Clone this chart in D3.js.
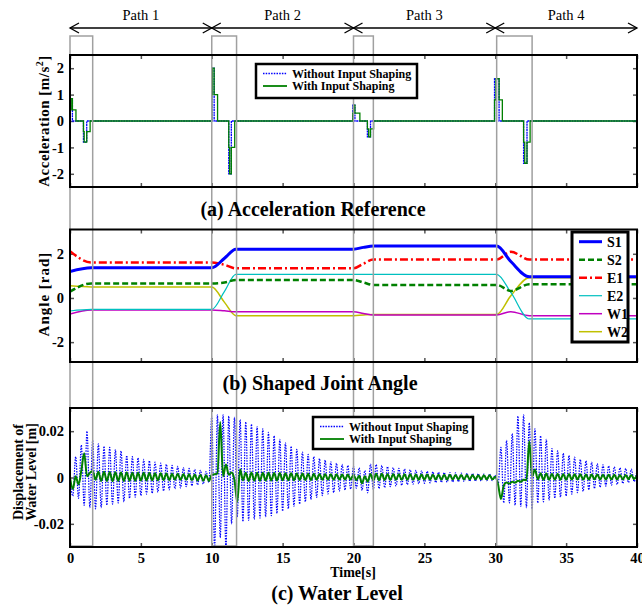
<!DOCTYPE html>
<html>
<head>
<meta charset="utf-8">
<script src="https://d3js.org/d3.v7.min.js"></script>
<style>
  body { margin: 0; background: #fff; }
  svg text { font-family: "Liberation Serif", "Times New Roman", serif; }
</style>
</head>
<body>
<script>
// ---- data ----

// path segments along the time axis
var pathNames = ["Path 1", "Path 2", "Path 3", "Path 4"];
var pathBounds = [0, 10, 20, 30, 40];

// gray windows (shaping interval of each path), seconds
var winStart = [0, 10, 20, 30.1];
var winEnd = [1.6, 11.75, 21.4, 32.6];

// (a) acceleration reference, step breakpoints
var accBlueT = [0, 0.02, 0.17, 0.95, 1.18, 10.0, 10.17, 11.2, 11.38, 19.95, 20.1, 20.98, 21.2, 29.95, 30.27, 32.0, 32.24, 40];
var accBlueV = [0, 0.85, 0, -0.8, 0, 2, 0, -2, 0, 0.6, 0, -0.6, 0, 1.6, 0, -1.6, 0, 0];
var accGreenT = [0, 0.02, 0.07, 0.17, 0.42, 0.95, 1.0, 1.18, 1.42, 10.0, 10.05, 10.17, 10.41, 11.2, 11.26, 11.38, 11.62,
                 19.95, 20.0, 20.1, 20.45, 20.98, 21.07, 21.2, 21.42, 29.95, 30.05, 30.27, 30.5, 32.0, 32.08, 32.24, 32.46, 40];
var accGreenV = [0, 0.42, 0.85, 0.42, 0, -0.4, -0.8, -0.4, 0, 1, 2, 1, 0, -1, -2, -1, 0,
                 0.3, 0.6, 0.3, 0, -0.3, -0.6, -0.3, 0, 0.8, 1.6, 0.8, 0, -0.8, -1.6, -0.8, 0, 0];

// (b) joint angles at key times
var angleT = [0, 1.5, 10, 10.9, 11.7, 20, 20.7, 21.4, 30.1, 31.1, 32.4, 40];
var angleS1 = [1.2, 1.37, 1.37, 1.8, 2.21, 2.21, 2.29, 2.35, 2.35, 1.65, 0.96, 0.96];
var angleS2 = [0.28, 0.66, 0.66, 0.7, 0.81, 0.81, 0.7, 0.59, 0.59, 0.32, 0.62, 0.62];
var angleE1 = [2.12, 1.61, 1.61, 1.5, 1.34, 1.34, 1.55, 1.74, 1.74, 2.09, 1.74, 1.74];
var angleE2 = [-0.59, -0.52, -0.52, 0.3, 1.07, 1.07, 1.07, 1.07, 1.07, 0.25, -0.95, -0.95];
var angleW1 = [-0.73, -0.54, -0.54, -0.58, -0.62, -0.62, -0.7, -0.77, -0.77, -0.62, -0.8, -0.8];
var angleW2 = [0.55, 0.5, 0.5, -0.2, -0.8, -0.8, -0.77, -0.75, -0.75, 0.1, 0.92, 0.92];

// (c) water level, one value every 0.2 s from 0 to 40 s
var levelStep = 0.2;
var blueLevel = [
  0, -0.008, 0.009, -0.009, 0.014, -0.012, 0.020, -0.013, 0.016, -0.0135,
  0.0145, -0.013, 0.0135, -0.012, 0.013, -0.0115, 0.012, -0.011, 0.0115, -0.0105,
  0.0095, -0.009, 0.009, -0.0085, 0.0085, -0.0078, 0.0078, -0.0072, 0.0072, -0.0068,
  0.0066, -0.0063, 0.0062, -0.0058, 0.0057, -0.0053, 0.0052, -0.0049, 0.0048, -0.0045,
  0.0043, -0.004, 0.0039, -0.0036, 0.0035, -0.0032, 0.0031, -0.0028, 0.0026, -0.0022,
  0.0265, -0.031, 0.027, -0.026, 0.027, -0.031, 0.0265, -0.02, 0.026, -0.017,
  0.025, -0.019, 0.024, -0.0185, 0.023, -0.018, 0.022, -0.0175, 0.021, -0.017,
  0.0195, -0.0165, 0.018, -0.0155, 0.0165, -0.0145, 0.015, -0.0135, 0.0135, -0.0125,
  0.0122, -0.0115, 0.011, -0.0105, 0.01, -0.0095, 0.009, -0.0086, 0.0082, -0.0078,
  0.0075, -0.0071, 0.0068, -0.0065, 0.0062, -0.0059, 0.0057, -0.0054, 0.0052, -0.005,
  0.0048, -0.0046, 0.0042, -0.0056, 0.003, -0.0066, 0.0058, -0.0052, 0.0056, -0.0048,
  0.0052, -0.0044, 0.0047, -0.004, 0.0043, -0.0037, 0.004, -0.0034, 0.0037, -0.0031,
  0.0034, -0.0029, 0.0031, -0.0027, 0.0029, -0.0025, 0.0027, -0.0023, 0.0025, -0.0022,
  0.0023, -0.0021, 0.0022, -0.002, 0.0021, -0.0019, 0.002, -0.0018, 0.0019, -0.0017,
  0.0018, -0.0016, 0.0017, -0.0015, 0.0016, -0.0015, 0.0015, -0.0014, 0.0015, -0.0014,
  0.001, -0.0035, 0.013, -0.011, 0.016, -0.011, 0.019, -0.012, 0.0265, -0.0125,
  0.027, -0.013, 0.0236, -0.0135, 0.021, -0.011, 0.018, -0.0105, 0.0165, -0.0098,
  0.0125, -0.009, 0.0115, -0.0085, 0.0105, -0.008, 0.0095, -0.0072, 0.0088, -0.0065,
  0.0078, -0.006, 0.0072, -0.0053, 0.0066, -0.0047, 0.006, -0.0042, 0.0055, -0.0037,
  0.005, -0.0033, 0.0046, -0.003, 0.0042, -0.0026, 0.0039, -0.0022, 0.0036, -0.0018,
  0.0033
];
var greenLevel = [
  0, -0.005, 0.0005, -0.003, 0.003, 0.0105, 0.0005, 0.002, 0.0028, -0.001,
  0.0025, -0.0015, 0.0025, -0.0015, 0.0024, -0.0016, 0.0023, -0.0015, 0.0022, -0.0015,
  0.0022, -0.0014, 0.0021, -0.0014, 0.002, -0.0013, 0.002, -0.0013, 0.0019, -0.0012,
  0.0018, -0.0012, 0.0018, -0.0011, 0.0017, -0.0011, 0.0016, -0.001, 0.0016, -0.001,
  0.0015, -0.001, 0.0014, -0.0012, 0.0013, -0.0013, 0.0012, -0.0014, 0.001, -0.0015,
  0.0012, 0.0014, 0.0018, 0.024, 0.0005, 0.0056, 0.0012, 0.0022, -0.001, -0.0105,
  0.0036, -0.0012, 0.002, -0.0015, 0.0022, -0.0014, 0.0021, -0.0014, 0.002, -0.0013,
  0.002, -0.0013, 0.0019, -0.0013, 0.0019, -0.0012, 0.0018, -0.0012, 0.0018, -0.0012,
  0.0017, -0.0011, 0.0017, -0.0011, 0.0016, -0.0011, 0.0016, -0.001, 0.0015, -0.001,
  0.0015, -0.001, 0.0014, -0.001, 0.0014, -0.0009, 0.0013, -0.0009, 0.0013, -0.0009,
  0.0012, -0.0012, 0.0008, -0.0025, 0.0005, -0.0018, 0.0015, -0.0012, 0.0016, -0.0012,
  0.0016, -0.0011, 0.0015, -0.0011, 0.0015, -0.001, 0.0014, -0.001, 0.0014, -0.001,
  0.0014, -0.001, 0.0013, -0.001, 0.0013, -0.0009, 0.0013, -0.0009, 0.0012, -0.0009,
  0.0012, -0.0009, 0.0012, -0.0009, 0.0012, -0.0008, 0.0011, -0.0008, 0.0011, -0.0008,
  0.0011, -0.0008, 0.0011, -0.0008, 0.001, -0.0008, 0.001, -0.0008, 0.001, -0.0008,
  0.0003, -0.003, -0.0093, -0.0035, -0.0022, -0.0026, -0.0018, -0.0022, -0.0014, -0.0018,
  -0.001, -0.0012, 0.0157, 0.0005, 0.0035, -0.0008, 0.0018, -0.001, 0.0017, -0.001,
  0.0016, -0.001, 0.0016, -0.001, 0.0015, -0.001, 0.0015, -0.0009, 0.0014, -0.0009,
  0.0014, -0.0009, 0.0013, -0.0009, 0.0013, -0.0008, 0.0013, -0.0008, 0.0012, -0.0008,
  0.0012, -0.0008, 0.0012, -0.0008, 0.0011, -0.0008, 0.0011, -0.0007, 0.0011, -0.0007,
  0.001
];

var xTicks = [0, 5, 10, 15, 20, 25, 30, 35, 40];
var accTicks = [-2, -1, 0, 1, 2];
var angleTicks = [-2, 0, 2];
var levelTicks = [-0.02, 0, 0.02];

// ---- setup ----
var width = 642, height = 605;
var svg = d3.select("body").append("svg")
    .attr("width", width)
    .attr("height", height);
svg.append("rect").attr("width", width).attr("height", height).attr("fill", "#fff");

var pA = {top: 55, bottom: 187},
    pB = {top: 229.5, bottom: 362},
    pC = {top: 408, bottom: 547};

var x = d3.scaleLinear().domain([0, 40]).range([70, 637]);
var yA = d3.scaleLinear().domain([-2.5, 2.5]).range([pA.bottom, pA.top]);
var yB = d3.scaleLinear().domain([-2.9, 3.1]).range([pB.bottom, pB.top]);
var yC = d3.scaleLinear().domain([-0.03, 0.03]).range([pC.bottom, pC.top]);

var BLUE = "#0000ff", GREEN = "#008000";

// clip each panel
function clip(id, p) {
  svg.append("clipPath").attr("id", id)
    .append("rect")
      .attr("x", x(0)).attr("y", p.top)
      .attr("width", x(40) - x(0)).attr("height", p.bottom - p.top);
}
clip("clipA", pA); clip("clipB", pB); clip("clipC", pC);

// axes: inward ticks on all four sides
function axes(p, y, yt, showX) {
  var fmt = function (d) { return String(d); };
  var g1 = svg.append("g").attr("transform", "translate(0," + p.bottom + ")")
    .call(d3.axisBottom(x).tickValues(xTicks).tickSize(-4).tickPadding(6)
      .tickFormat(showX ? fmt : ""));
  var g2 = svg.append("g").attr("transform", "translate(0," + p.top + ")")
    .call(d3.axisTop(x).tickValues(xTicks).tickSize(-4).tickFormat(""));
  var g3 = svg.append("g").attr("transform", "translate(" + x(0) + ",0)")
    .call(d3.axisLeft(y).tickValues(yt).tickSize(-4).tickPadding(6).tickFormat(fmt));
  var g4 = svg.append("g").attr("transform", "translate(" + x(40) + ",0)")
    .call(d3.axisRight(y).tickValues(yt).tickSize(-4).tickFormat(""));
  [g1, g2, g3, g4].forEach(function (g) {
    g.select(".domain").remove();
    g.selectAll(".tick line").attr("stroke", "#555").attr("stroke-width", 1.5);
    g.selectAll("text").attr("fill", "#000").attr("font-weight", "bold")
      .attr("font-size", "14.5px")
      .style("font-family", "'Liberation Serif', 'Times New Roman', serif");
  });
}
axes(pA, yA, accTicks, false);
axes(pB, yB, angleTicks, false);
axes(pC, yC, levelTicks, true);

// ---- (a) acceleration ----
var accLine = d3.line().curve(d3.curveStepAfter)
  .x(function (d) { return x(d[0]); })
  .y(function (d) { return yA(d[1]); });
var gA = svg.append("g").attr("clip-path", "url(#clipA)");
gA.append("path").datum(d3.zip(accBlueT, accBlueV))
  .attr("d", accLine).attr("fill", "none")
  .attr("stroke", BLUE).attr("stroke-width", 1.3).attr("stroke-dasharray", "2,0.6");
gA.append("path").datum(d3.zip(accGreenT, accGreenV))
  .attr("d", accLine).attr("fill", "none")
  .attr("stroke", GREEN).attr("stroke-width", 1.3);

// ---- (b) joint angles ----
var joints = [
  {name: "W2", v: angleW2, color: "#c0c000", w: 1.5, dash: null},
  {name: "W1", v: angleW1, color: "#c000c0", w: 1.5, dash: null},
  {name: "E2", v: angleE2, color: "#00c0c0", w: 1.2, dash: null},
  {name: "E1", v: angleE1, color: "#ff0000", w: 2.5, dash: "8,3,2,3"},
  {name: "S2", v: angleS2, color: "#008000", w: 2.5, dash: "6,3"},
  {name: "S1", v: angleS1, color: "#0000ff", w: 3, dash: null}
];
var angLine = d3.line().curve(d3.curveMonotoneX)
  .x(function (d) { return x(d[0]); })
  .y(function (d) { return yB(d[1]); });
var gB = svg.append("g").attr("clip-path", "url(#clipB)");
joints.forEach(function (j) {
  gB.append("path").datum(d3.zip(angleT, j.v))
    .attr("d", angLine).attr("fill", "none")
    .attr("stroke", j.color).attr("stroke-width", j.w)
    .attr("stroke-dasharray", j.dash);
});

// ---- (c) water level ----
var lvlLine = d3.line().curve(d3.curveMonotoneX)
  .x(function (d, i) { return x(i * levelStep); })
  .y(function (d) { return yC(d); });
var gC = svg.append("g").attr("clip-path", "url(#clipC)");
gC.append("path").datum(blueLevel)
  .attr("d", lvlLine).attr("fill", "none")
  .attr("stroke", BLUE).attr("stroke-width", 1.2).attr("stroke-dasharray", "1.5,1.2");
gC.append("path").datum(greenLevel)
  .attr("d", lvlLine).attr("fill", "none")
  .attr("stroke", GREEN).attr("stroke-width", 2);

// gray shaping windows through all panels
winStart.forEach(function (s, i) {
  svg.append("rect")
    .attr("x", x(s)).attr("y", 36)
    .attr("width", x(winEnd[i]) - x(s)).attr("height", pC.bottom - 1 - 36)
    .attr("fill", "none").attr("stroke", "#a0a0a0").attr("stroke-width", 1.5);
});

// panel frames
[pA, pB, pC].forEach(function (p) {
  svg.append("rect")
    .attr("x", x(0)).attr("y", p.top)
    .attr("width", x(40) - x(0)).attr("height", p.bottom - p.top)
    .attr("fill", "none").attr("stroke", "#000").attr("stroke-width", 2);
});

// ---- path arrows on top ----
var arrowY = 28;
pathNames.forEach(function (name, i) {
  var x0 = x(pathBounds[i]), x1 = x(pathBounds[i + 1]);
  var g = svg.append("g").attr("stroke", "#000").attr("stroke-width", 1.3).attr("fill", "none");
  g.append("line").attr("x1", x0).attr("x2", x1).attr("y1", arrowY).attr("y2", arrowY);
  g.append("polyline").attr("points", [[x0 + 9, arrowY - 5], [x0, arrowY], [x0 + 9, arrowY + 5]].join(" "));
  g.append("polyline").attr("points", [[x1 - 9, arrowY - 5], [x1, arrowY], [x1 - 9, arrowY + 5]].join(" "));
  svg.append("text").attr("x", (x0 + x1) / 2).attr("y", 20)
    .attr("text-anchor", "middle").attr("font-size", "14.5px").text(name);
});

// ---- legends ----
function levelLegend(x0, y0, w, h) {
  svg.append("rect").attr("x", x0).attr("y", y0).attr("width", w).attr("height", h)
    .attr("fill", "#fff").attr("stroke", "#000").attr("stroke-width", 2.5);
  var items = [
    {label: "Without Input Shaping", color: BLUE, dash: "1.5,1.2", w: 1.3},
    {label: "With Input Shaping", color: GREEN, dash: null, w: 1.8}
  ];
  items.forEach(function (it, i) {
    var yy = y0 + 9.5 + i * 12.5;
    svg.append("line").attr("x1", x0 + 7).attr("x2", x0 + 31).attr("y1", yy).attr("y2", yy)
      .attr("stroke", it.color).attr("stroke-width", it.w).attr("stroke-dasharray", it.dash);
    svg.append("text").attr("x", x0 + 36).attr("y", yy + 4)
      .attr("font-size", "12px").attr("font-weight", "bold").text(it.label);
  });
}
levelLegend(256, 64, 161, 34);
levelLegend(313, 417, 160, 32);

// joint legend
svg.append("rect").attr("x", 572).attr("y", 232).attr("width", 56).attr("height", 110)
  .attr("fill", "#fff").attr("stroke", "#000").attr("stroke-width", 3);
joints.slice().reverse().forEach(function (j, i) {
  var yy = 241.7 + i * 18;
  svg.append("line").attr("x1", 579).attr("x2", 602).attr("y1", yy).attr("y2", yy)
    .attr("stroke", j.color).attr("stroke-width", j.w).attr("stroke-dasharray", j.dash);
  svg.append("text").attr("x", 607).attr("y", yy + 5)
    .attr("font-size", "14px").attr("font-weight", "bold").text(j.name);
});

// ---- axis labels & titles ----
var accLab = svg.append("text").attr("transform", "translate(49," + yA(0) + ") rotate(-90)")
  .attr("text-anchor", "middle").attr("font-size", "15px").attr("font-weight", "bold")
  .attr("letter-spacing", "0.5px");
accLab.append("tspan").text("Acceleration [m/s");
accLab.append("tspan").attr("dy", -6).attr("font-size", "10px").text("2");
accLab.append("tspan").attr("dy", 6).text("]");

svg.append("text").attr("transform", "translate(49,294) rotate(-90)")
  .attr("text-anchor", "middle").attr("font-size", "15px").attr("font-weight", "bold")
  .attr("letter-spacing", "1px").text("Angle [rad]");

svg.append("text").attr("transform", "translate(23,472) rotate(-90)")
  .attr("text-anchor", "middle").attr("font-size", "14px").attr("font-weight", "bold")
  .text("Displacement of");
svg.append("text").attr("transform", "translate(36,472) rotate(-90)")
  .attr("text-anchor", "middle").attr("font-size", "14px").attr("font-weight", "bold")
  .text("Water Level [m]");

svg.append("text").attr("x", 353).attr("y", 577).attr("text-anchor", "middle")
  .attr("font-size", "14px").attr("font-weight", "bold").text("Time[s]");

var titles = [
  {text: "(a) Acceleration Reference", x: 313, y: 216},
  {text: "(b) Shaped Joint Angle", x: 320, y: 390},
  {text: "(c) Water Level", x: 337, y: 600}
];
titles.forEach(function (t) {
  svg.append("text").attr("x", t.x).attr("y", t.y).attr("text-anchor", "middle")
    .attr("font-size", "20px").attr("font-weight", "bold").text(t.text);
});
</script>
</body>
</html>
